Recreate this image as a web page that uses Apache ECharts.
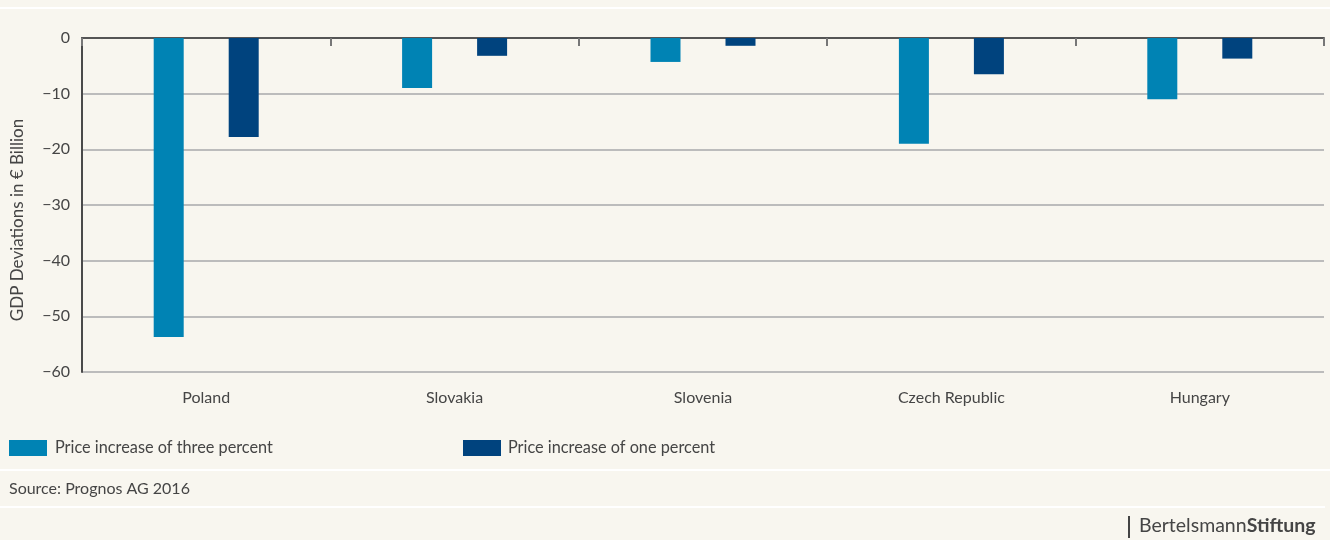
<!DOCTYPE html>
<html>
<head>
<meta charset="utf-8">
<script src="https://cdn.jsdelivr.net/npm/echarts@6/dist/echarts.min.js"></script>
<style>
html,body{margin:0;padding:0;background:#f8f6ef;}
#c{width:1330px;height:540px;}
</style>
</head>
<body>
<div id="c"></div>
<script>
const categories = ['Poland', 'Slovakia', 'Slovenia', 'Czech Republic', 'Hungary'];
const threePercent = [-53.7, -9.0, -4.3, -19.0, -11.0];
const onePercent = [-17.8, -3.2, -1.4, -6.5, -3.7];
const seriesNames = ['Price increase of three percent', 'Price increase of one percent'];
const yTicks = {min: -60, max: 0, interval: 10};
const axisTitle = 'GDP Deviations in \u20ac Billion';
const sourceText = 'Source: Prognos AG 2016';

const chart = echarts.init(document.getElementById('c'));
const font = 'Lato, "Open Sans", sans-serif';
const txt = '#454545';

chart.setOption({
  backgroundColor: '#f8f6ef',
  animation: false,
  textStyle: {fontFamily: font},
  grid: {left: 82, right: 6, top: 38, bottom: 168, containLabel: false},
  legend: [
    {data: [seriesNames[0]], left: 9, top: 440, padding: 0, itemWidth: 38, itemHeight: 16, itemGap: 0,
     icon: 'rect', textStyle: {fontSize: 16.3, color: txt, fontFamily: font, padding: [3, 0, 0, 3]}},
    {data: [seriesNames[1]], left: 463, top: 440, padding: 0, itemWidth: 38, itemHeight: 16, itemGap: 0,
     icon: 'rect', textStyle: {fontSize: 16.3, color: txt, fontFamily: font, padding: [3, 0, 0, 2]}}
  ],
  xAxis: [
    {type: 'category', data: categories, position: 'bottom',
     axisLine: {show: false, onZero: false}, axisTick: {show: false},
     axisLabel: {fontSize: 16, color: txt, margin: 18, fontFamily: font}},
    {type: 'category', data: categories, position: 'top',
     axisLine: {show: true, onZero: false, lineStyle: {color: '#555', width: 2}},
     axisTick: {show: true, inside: true, length: 8, lineStyle: {color: '#777', width: 2}},
     axisLabel: {show: false}}
  ],
  yAxis: {
    type: 'value', min: yTicks.min, max: yTicks.max, interval: yTicks.interval,
    axisLine: {show: true, lineStyle: {color: '#4a4a4a', width: 2}},
    axisTick: {show: false},
    splitLine: {show: true, lineStyle: {color: '#bcbcbc', width: 2}},
    axisLabel: {fontSize: 16, color: txt, margin: 12, fontFamily: font,
      formatter: v => String(v).replace('-', '\u2212')}
  },
  series: [
    {name: seriesNames[0], type: 'bar', xAxisIndex: 0, data: threePercent,
     barWidth: 30, barGap: '150%', itemStyle: {color: '#0083b4'}},
    {name: seriesNames[1], type: 'bar', xAxisIndex: 0, data: onePercent,
     barWidth: 30, barGap: '150%', itemStyle: {color: '#00437e'}}
  ],
  graphic: [
    {type: 'rect', shape: {x: 0, y: 7, width: 1330, height: 2}, style: {fill: '#ffffff'}, z: -1},
    {type: 'rect', shape: {x: 0, y: 469, width: 1330, height: 2}, style: {fill: '#ffffff'}, z: -1},
    {type: 'rect', shape: {x: 0, y: 506, width: 1325, height: 2}, style: {fill: '#ffffff'}, z: -1},
    {type: 'text', x: 18, y: 220, rotation: Math.PI / 2, style: {
      text: axisTitle, fontSize: 17, fill: txt, fontFamily: font, align: 'center', verticalAlign: 'middle'}},
    {type: 'text', left: 9, top: 481, style: {text: sourceText, fontSize: 16, fill: txt, fontFamily: font}},
    {type: 'rect', shape: {x: 1128, y: 516, width: 2, height: 22}, style: {fill: '#444'}},
    {type: 'text', left: 1139, top: 516, style: {
      text: '{a|Bertelsmann}{b|Stiftung}',
      rich: {
        a: {fontSize: 19.5, fill: txt, fontFamily: font},
        b: {fontSize: 19.5, fill: txt, fontWeight: 'bold', fontFamily: font}
      }}}
  ]
});
</script>
</body>
</html>
